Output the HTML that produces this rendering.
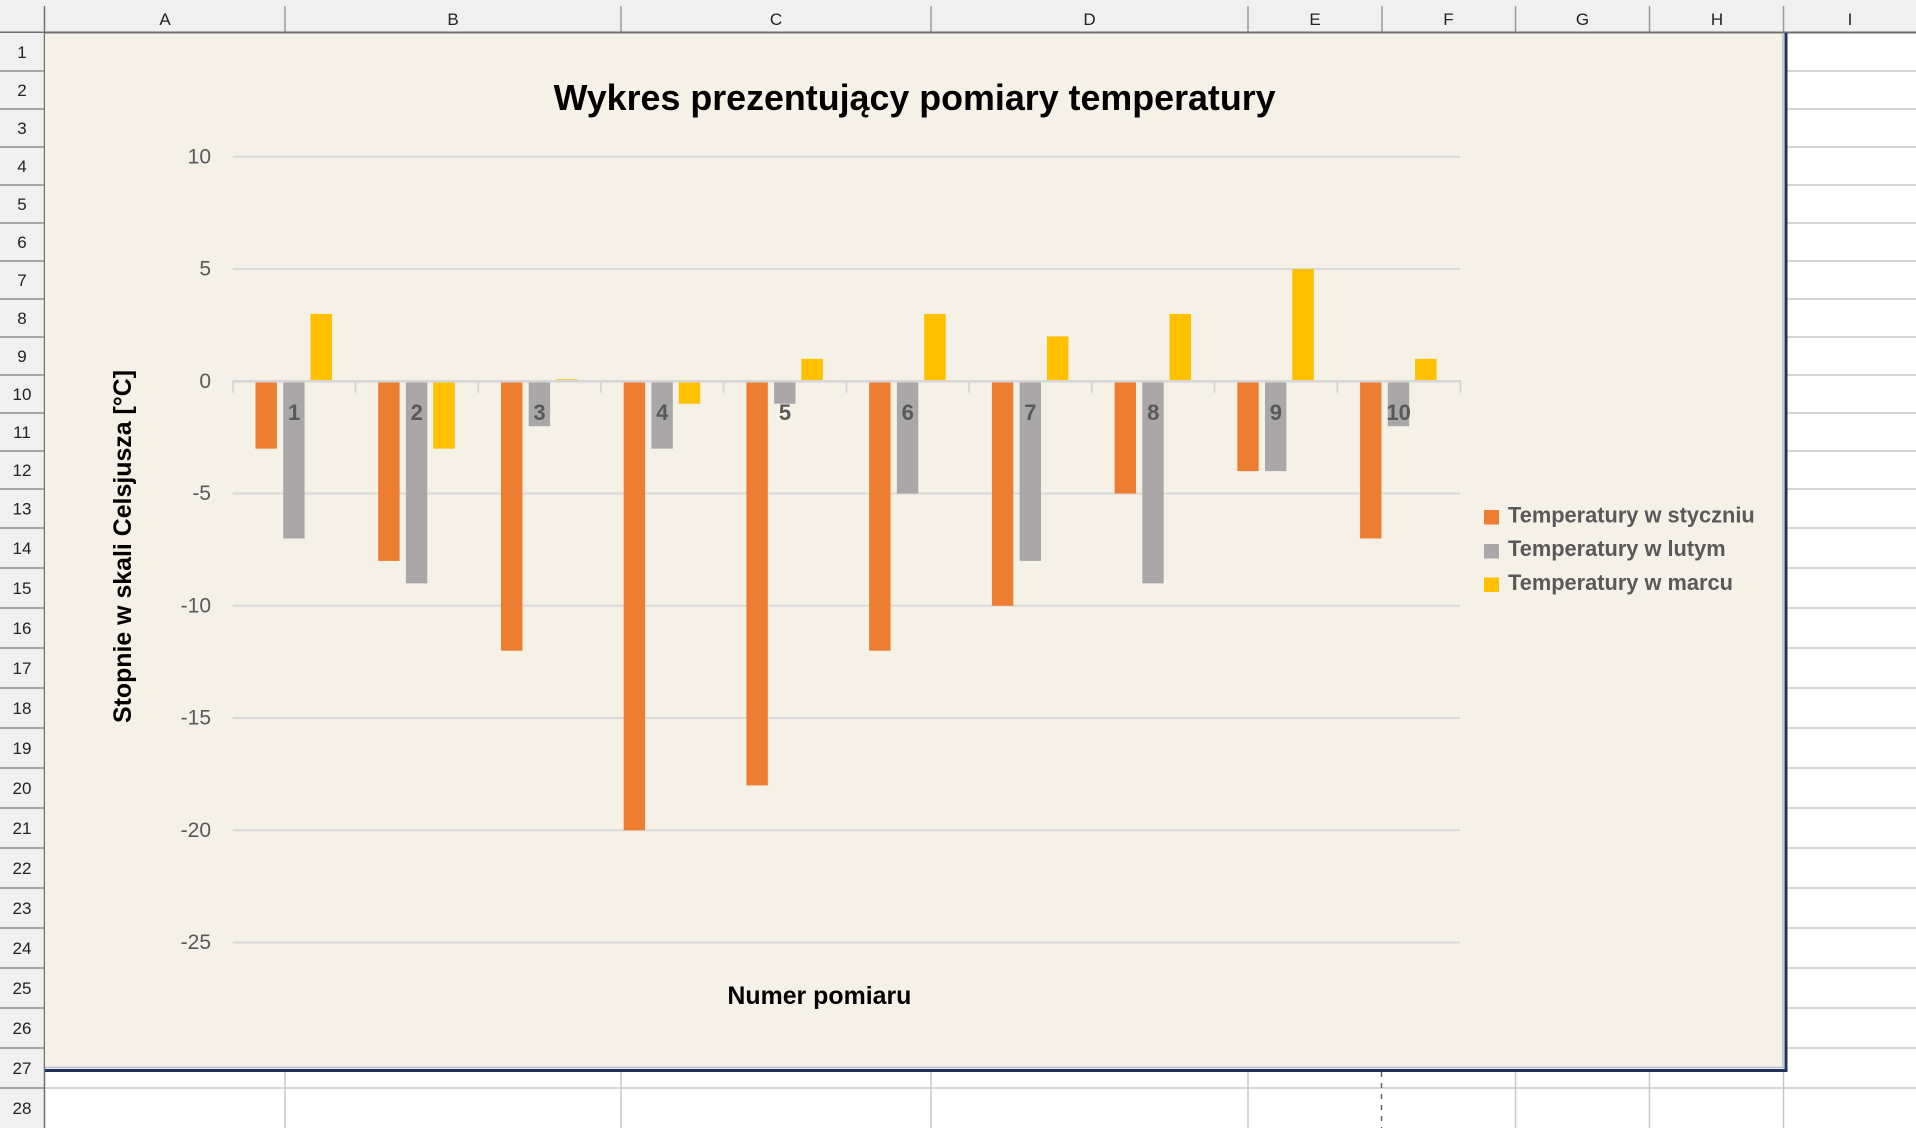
<!DOCTYPE html>
<html>
<head>
<meta charset="utf-8">
<style>
  html,body{margin:0;padding:0;background:#fff;}
  svg{display:block;}
  .hdr{font-family:"Liberation Sans",sans-serif;font-size:17px;fill:#222;}
  .ylab{font-family:"Liberation Sans",sans-serif;font-size:21px;fill:#595959;}
  .clab{font-family:"Liberation Sans",sans-serif;font-size:22px;font-weight:bold;fill:#595959;}
  .leg{font-family:"Liberation Sans",sans-serif;font-size:21.8px;font-weight:bold;fill:#595959;}
  .ttl{font-family:"Liberation Sans",sans-serif;font-weight:bold;fill:#000;}
</style>
</head>
<body>
<svg width="1916" height="1128" viewBox="0 0 1916 1128" xmlns="http://www.w3.org/2000/svg">
  <!-- sheet background -->
  <rect x="0" y="0" width="1916" height="1128" fill="#ffffff"/>

  <!-- cell grid lines (column I, right of chart) -->
  <g stroke="#c8c8c8" stroke-width="1.5">
    <line x1="1787" y1="71" x2="1916" y2="71"/>
    <line x1="1787" y1="109" x2="1916" y2="109"/>
    <line x1="1787" y1="147" x2="1916" y2="147"/>
    <line x1="1787" y1="185" x2="1916" y2="185"/>
    <line x1="1787" y1="223" x2="1916" y2="223"/>
    <line x1="1787" y1="261" x2="1916" y2="261"/>
    <line x1="1787" y1="299" x2="1916" y2="299"/>
    <line x1="1787" y1="337" x2="1916" y2="337"/>
    <line x1="1787" y1="375" x2="1916" y2="375"/>
    <line x1="1787" y1="413" x2="1916" y2="413"/>
    <line x1="1787" y1="451" x2="1916" y2="451"/>
    <line x1="1787" y1="489" x2="1916" y2="489"/>
    <line x1="1787" y1="528" x2="1916" y2="528"/>
    <line x1="1787" y1="568" x2="1916" y2="568"/>
    <line x1="1787" y1="608" x2="1916" y2="608"/>
    <line x1="1787" y1="648" x2="1916" y2="648"/>
    <line x1="1787" y1="688" x2="1916" y2="688"/>
    <line x1="1787" y1="728" x2="1916" y2="728"/>
    <line x1="1787" y1="768" x2="1916" y2="768"/>
    <line x1="1787" y1="808" x2="1916" y2="808"/>
    <line x1="1787" y1="848" x2="1916" y2="848"/>
    <line x1="1787" y1="888" x2="1916" y2="888"/>
    <line x1="1787" y1="928" x2="1916" y2="928"/>
    <line x1="1787" y1="968" x2="1916" y2="968"/>
    <line x1="1787" y1="1008" x2="1916" y2="1008"/>
    <line x1="1787" y1="1048" x2="1916" y2="1048"/>
    <line x1="45" y1="1088" x2="1916" y2="1088"/>
    <!-- vertical lines below chart -->
    <line x1="285" y1="1071" x2="285" y2="1128"/>
    <line x1="621" y1="1071" x2="621" y2="1128"/>
    <line x1="931" y1="1071" x2="931" y2="1128"/>
    <line x1="1248" y1="1071" x2="1248" y2="1128"/>
    <line x1="1515.5" y1="1071" x2="1515.5" y2="1128"/>
    <line x1="1649.5" y1="1071" x2="1649.5" y2="1128"/>
    <line x1="1783.5" y1="1071" x2="1783.5" y2="1128"/>
  </g>
  <!-- page break dashed line -->
  <line x1="1381.5" y1="1072" x2="1381.5" y2="1128" stroke="#666" stroke-width="1.5" stroke-dasharray="5,6"/>

  <!-- column header -->
  <rect x="0" y="0" width="1916" height="33" fill="#f0f0f0"/>
  <g stroke="#9a9a9a" stroke-width="1.5">
    <line x1="44.5" y1="6" x2="44.5" y2="33" stroke="#707070"/>
    <line x1="285" y1="6" x2="285" y2="33"/>
    <line x1="621" y1="6" x2="621" y2="33"/>
    <line x1="931" y1="6" x2="931" y2="33"/>
    <line x1="1248" y1="6" x2="1248" y2="33"/>
    <line x1="1382" y1="6" x2="1382" y2="33"/>
    <line x1="1515.5" y1="6" x2="1515.5" y2="33"/>
    <line x1="1649.5" y1="6" x2="1649.5" y2="33"/>
    <line x1="1783.5" y1="6" x2="1783.5" y2="33"/>
  </g>
  <line x1="0" y1="32.5" x2="1916" y2="32.5" stroke="#6e6e6e" stroke-width="2"/>
  <g class="hdr" text-anchor="middle">
    <text x="165" y="25">A</text>
    <text x="453" y="25">B</text>
    <text x="776" y="25">C</text>
    <text x="1089.5" y="25">D</text>
    <text x="1315" y="25">E</text>
    <text x="1448.5" y="25">F</text>
    <text x="1582.5" y="25">G</text>
    <text x="1717" y="25">H</text>
    <text x="1850" y="25">I</text>
  </g>

  <!-- row header -->
  <rect x="0" y="33" width="44" height="1095" fill="#f0f0f0"/>
  <line x1="44.5" y1="33" x2="44.5" y2="1128" stroke="#707070" stroke-width="1.5"/>
  <g stroke="#7a7a7a" stroke-width="1.2">
    <line x1="0" y1="71" x2="44" y2="71"/>
    <line x1="0" y1="109" x2="44" y2="109"/>
    <line x1="0" y1="147" x2="44" y2="147"/>
    <line x1="0" y1="185" x2="44" y2="185"/>
    <line x1="0" y1="223" x2="44" y2="223"/>
    <line x1="0" y1="261" x2="44" y2="261"/>
    <line x1="0" y1="299" x2="44" y2="299"/>
    <line x1="0" y1="337" x2="44" y2="337"/>
    <line x1="0" y1="375" x2="44" y2="375"/>
    <line x1="0" y1="413" x2="44" y2="413"/>
    <line x1="0" y1="451" x2="44" y2="451"/>
    <line x1="0" y1="489" x2="44" y2="489"/>
    <line x1="0" y1="528" x2="44" y2="528"/>
    <line x1="0" y1="568" x2="44" y2="568"/>
    <line x1="0" y1="608" x2="44" y2="608"/>
    <line x1="0" y1="648" x2="44" y2="648"/>
    <line x1="0" y1="688" x2="44" y2="688"/>
    <line x1="0" y1="728" x2="44" y2="728"/>
    <line x1="0" y1="768" x2="44" y2="768"/>
    <line x1="0" y1="808" x2="44" y2="808"/>
    <line x1="0" y1="848" x2="44" y2="848"/>
    <line x1="0" y1="888" x2="44" y2="888"/>
    <line x1="0" y1="928" x2="44" y2="928"/>
    <line x1="0" y1="968" x2="44" y2="968"/>
    <line x1="0" y1="1008" x2="44" y2="1008"/>
    <line x1="0" y1="1048" x2="44" y2="1048"/>
    <line x1="0" y1="1088" x2="44" y2="1088"/>
  </g>
  <g class="hdr" text-anchor="middle">
    <text x="22" y="58">1</text>
    <text x="22" y="96">2</text>
    <text x="22" y="134">3</text>
    <text x="22" y="172">4</text>
    <text x="22" y="210">5</text>
    <text x="22" y="248">6</text>
    <text x="22" y="286">7</text>
    <text x="22" y="324">8</text>
    <text x="22" y="362">9</text>
    <text x="22" y="400">10</text>
    <text x="22" y="438">11</text>
    <text x="22" y="476">12</text>
    <text x="22" y="514.5">13</text>
    <text x="22" y="554">14</text>
    <text x="22" y="594">15</text>
    <text x="22" y="634">16</text>
    <text x="22" y="674">17</text>
    <text x="22" y="714">18</text>
    <text x="22" y="754">19</text>
    <text x="22" y="794">20</text>
    <text x="22" y="834">21</text>
    <text x="22" y="874">22</text>
    <text x="22" y="914">23</text>
    <text x="22" y="954">24</text>
    <text x="22" y="994">25</text>
    <text x="22" y="1034">26</text>
    <text x="22" y="1074">27</text>
    <text x="22" y="1114">28</text>
  </g>

  <!-- chart area -->
  <rect x="45" y="34" width="1739" height="1034" fill="#f5f1e6"/>
  <line x1="1783" y1="34" x2="1783" y2="1068" stroke="#b9bfca" stroke-width="1.5"/>
  <line x1="45" y1="1067.5" x2="1784" y2="1067.5" stroke="#b9bfca" stroke-width="1.5"/>
  <rect x="1784.5" y="33" width="3" height="1039" fill="#1f3358"/>
  <rect x="45" y="1069" width="1742.5" height="3" fill="#1f3358"/>

  <!-- title -->
  <text class="ttl" x="914.6" y="110" font-size="36" text-anchor="middle" textLength="722" lengthAdjust="spacingAndGlyphs">Wykres prezentujący pomiary temperatury</text>

  <!-- gridlines -->
  <g stroke="#d9d9d9" stroke-width="2">
    <line x1="232.7" y1="156.8" x2="1460" y2="156.8"/>
    <line x1="232.7" y1="269.05" x2="1460" y2="269.05"/>
    <line x1="232.7" y1="493.55" x2="1460" y2="493.55"/>
    <line x1="232.7" y1="605.8" x2="1460" y2="605.8"/>
    <line x1="232.7" y1="718.05" x2="1460" y2="718.05"/>
    <line x1="232.7" y1="830.3" x2="1460" y2="830.3"/>
    <line x1="232.7" y1="942.55" x2="1460" y2="942.55"/>
  </g>

  <!-- y axis labels -->
  <g class="ylab" text-anchor="end">
    <text x="211" y="163.3">10</text>
    <text x="211" y="275.5">5</text>
    <text x="211" y="387.8">0</text>
    <text x="211" y="500">-5</text>
    <text x="211" y="612.3">-10</text>
    <text x="211" y="724.5">-15</text>
    <text x="211" y="836.8">-20</text>
    <text x="211" y="949">-25</text>
  </g>

  <!-- bars: January (orange) -->
  <g fill="#ed7d31">
    <rect x="255.5" y="381.3" width="21.4" height="67.35"/>
    <rect x="378.2" y="381.3" width="21.4" height="179.6"/>
    <rect x="501.0" y="381.3" width="21.4" height="269.4"/>
    <rect x="623.7" y="381.3" width="21.4" height="449"/>
    <rect x="746.4" y="381.3" width="21.4" height="404.1"/>
    <rect x="869.15" y="381.3" width="21.4" height="269.4"/>
    <rect x="991.9" y="381.3" width="21.4" height="224.5"/>
    <rect x="1114.6" y="381.3" width="21.4" height="112.25"/>
    <rect x="1237.3" y="381.3" width="21.4" height="89.8"/>
    <rect x="1360.1" y="381.3" width="21.4" height="157.15"/>
  </g>
  <!-- February (gray) -->
  <g fill="#a9a7a7">
    <rect x="283.2" y="381.3" width="21.4" height="157.15"/>
    <rect x="405.9" y="381.3" width="21.4" height="202.05"/>
    <rect x="528.7" y="381.3" width="21.4" height="44.9"/>
    <rect x="651.4" y="381.3" width="21.4" height="67.35"/>
    <rect x="774.1" y="381.3" width="21.4" height="22.45"/>
    <rect x="896.9" y="381.3" width="21.4" height="112.25"/>
    <rect x="1019.6" y="381.3" width="21.4" height="179.6"/>
    <rect x="1142.3" y="381.3" width="21.4" height="202.05"/>
    <rect x="1265.0" y="381.3" width="21.4" height="89.8"/>
    <rect x="1387.8" y="381.3" width="21.4" height="44.9"/>
  </g>
  <!-- March (yellow) -->
  <g fill="#ffc000">
    <rect x="310.5" y="313.95" width="21.5" height="67.35"/>
    <rect x="433.2" y="381.3" width="21.5" height="67.35"/>
    <rect x="556.0" y="379.3" width="21.5" height="2"/>
    <rect x="678.7" y="381.3" width="21.5" height="22.45"/>
    <rect x="801.4" y="358.85" width="21.5" height="22.45"/>
    <rect x="924.2" y="313.95" width="21.5" height="67.35"/>
    <rect x="1046.9" y="336.4" width="21.5" height="44.9"/>
    <rect x="1169.6" y="313.95" width="21.5" height="67.35"/>
    <rect x="1292.3" y="269.05" width="21.5" height="112.25"/>
    <rect x="1415.1" y="358.85" width="21.5" height="22.45"/>
  </g>

  <!-- x axis line and ticks -->
  <g stroke="#d6d6d6" stroke-width="2.5">
    <line x1="232.7" y1="381.3" x2="1461" y2="381.3"/>
  </g>
  <g stroke="#d6d6d6" stroke-width="2">
    <line x1="233.2" y1="381.3" x2="233.2" y2="392.7"/>
    <line x1="355.4" y1="381.3" x2="355.4" y2="392.7"/>
    <line x1="478.2" y1="381.3" x2="478.2" y2="392.7"/>
    <line x1="600.9" y1="381.3" x2="600.9" y2="392.7"/>
    <line x1="723.6" y1="381.3" x2="723.6" y2="392.7"/>
    <line x1="846.4" y1="381.3" x2="846.4" y2="392.7"/>
    <line x1="969.1" y1="381.3" x2="969.1" y2="392.7"/>
    <line x1="1091.8" y1="381.3" x2="1091.8" y2="392.7"/>
    <line x1="1214.5" y1="381.3" x2="1214.5" y2="392.7"/>
    <line x1="1337.3" y1="381.3" x2="1337.3" y2="392.7"/>
    <line x1="1460.5" y1="381.3" x2="1460.5" y2="392.7"/>
  </g>

  <!-- category labels -->
  <g class="clab" text-anchor="middle">
    <text x="294.1" y="420">1</text>
    <text x="416.8" y="420">2</text>
    <text x="539.5" y="420">3</text>
    <text x="662.3" y="420">4</text>
    <text x="785.0" y="420">5</text>
    <text x="907.7" y="420">6</text>
    <text x="1030.4" y="420">7</text>
    <text x="1153.2" y="420">8</text>
    <text x="1275.9" y="420">9</text>
    <text x="1398.6" y="420">10</text>
  </g>

  <!-- axis titles -->
  <text class="ttl" font-size="25" text-anchor="middle" transform="translate(131,546.5) rotate(-90)" textLength="353" lengthAdjust="spacingAndGlyphs">Stopnie w skali Celsjusza [°C]</text>
  <text class="ttl" x="819.4" y="1004" font-size="25" text-anchor="middle" textLength="184" lengthAdjust="spacingAndGlyphs">Numer pomiaru</text>

  <!-- legend -->
  <rect x="1484" y="510" width="15" height="14.5" fill="#ed7d31"/>
  <rect x="1484" y="544" width="15" height="14.5" fill="#a9a7a7"/>
  <rect x="1484" y="577.5" width="15" height="14.5" fill="#ffc000"/>
  <g class="leg">
    <text x="1508" y="522.5">Temperatury w styczniu</text>
    <text x="1508" y="556">Temperatury w lutym</text>
    <text x="1508" y="590">Temperatury w marcu</text>
  </g>
</svg>
</body>
</html>
